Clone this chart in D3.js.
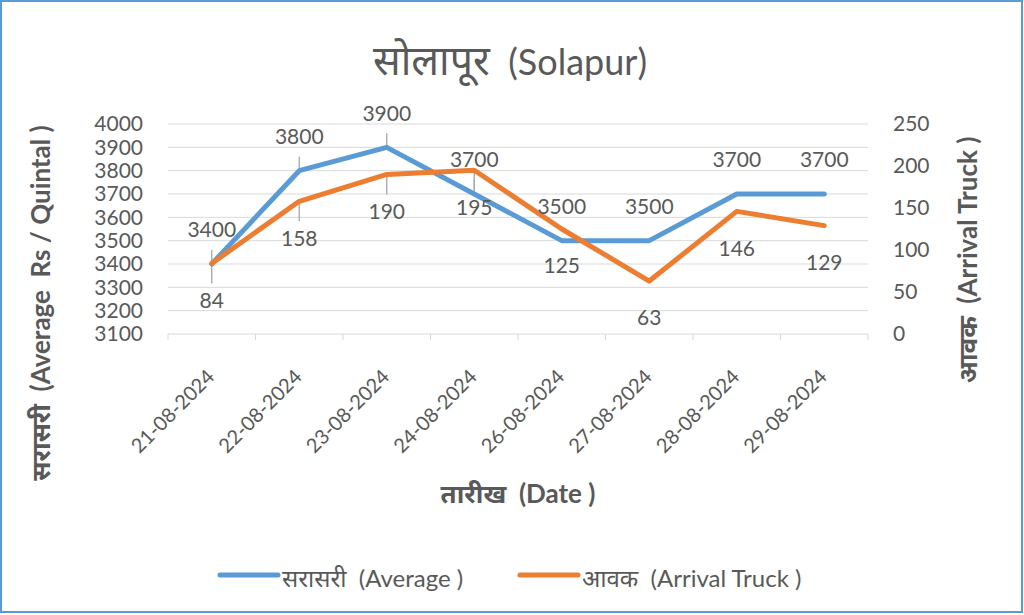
<!DOCTYPE html>
<html>
<head>
<meta charset="utf-8">
<script src="https://cdn.jsdelivr.net/npm/d3@7"></script>
<style>
  body { margin: 0; background: #fff; }
  svg text { font-family: Lato, "Noto Sans", sans-serif; fill: #595959; white-space: pre; }
</style>
</head>
<body>
<div class="chart"></div>
<script>
var dates = ["21-08-2024", "22-08-2024", "23-08-2024", "24-08-2024",
             "26-08-2024", "27-08-2024", "28-08-2024", "29-08-2024"];
var averagePrice = [3400, 3800, 3900, 3700, 3500, 3500, 3700, 3700];
var arrivalTrucks = [84, 158, 190, 195, 125, 63, 146, 129];
var leftTicks = [3100, 3200, 3300, 3400, 3500, 3600, 3700, 3800, 3900, 4000];
var rightTicks = [0, 50, 100, 150, 200, 250];
var leaderIdx = [0, 1, 2, 3];

var W = 1024, H = 615;
var plotL = 168, plotR = 868, plotT = 124, plotB = 334;

var svg = d3.select(".chart")
            .append("svg")
            .attr("width", W)
            .attr("height", H)

svg.append("rect")
   .attr("x", 1).attr("y", 1)
   .attr("width", W - 3).attr("height", H - 4)
   .style("fill", "#fff")
   .style("stroke", "#5B9BD5")
   .style("stroke-width", 2)

var x = d3.scaleBand().domain(dates).range([plotL, plotR]);
var yL = d3.scaleLinear().domain([3100, 4000]).range([plotB, plotT]);
var yR = d3.scaleLinear().domain([0, 250]).range([plotB, plotT]);

// gridlines
svg.append("g")
   .selectAll("line")
   .data(leftTicks.slice(1))
   .enter()
   .append("line")
   .attr("x1", plotL).attr("x2", plotR)
   .attr("y1", function(d) { return yL(d); })
   .attr("y2", function(d) { return yL(d); })
   .style("stroke", "#D9D9D9")
   .style("stroke-width", 1)

// category axis
var xAxis = svg.append("g")
   .attr("transform", "translate(0," + plotB + ")")
   .call(d3.axisBottom(x).tickSize(0).tickFormat(""));
xAxis.select(".domain").remove();
xAxis.append("line")
   .attr("x1", plotL).attr("x2", plotR)
   .style("stroke", "#D9D9D9").style("stroke-width", 1)
xAxis.selectAll(".bound")
   .data(d3.range(dates.length + 1))
   .enter()
   .append("line")
   .attr("x1", function(i) { return plotL + i * x.step(); })
   .attr("x2", function(i) { return plotL + i * x.step(); })
   .attr("y1", 0).attr("y2", 6)
   .style("stroke", "#D9D9D9")

svg.append("g")
   .selectAll("text")
   .data(dates)
   .enter()
   .append("text")
   .attr("transform", function(d) {
     return "translate(" + (x(d) + x.bandwidth() / 2 + 4) + "," + (plotB + 44) + ") rotate(-45)";
   })
   .attr("text-anchor", "end")
   .style("font-size", "20px")
   .text(function(d) { return d; })

// left axis
var gl = svg.append("g")
   .attr("transform", "translate(" + plotL + ",0)")
   .call(d3.axisLeft(yL).tickValues(leftTicks).tickFormat(d3.format("d")).tickSize(0).tickPadding(25));
gl.select(".domain").remove();
gl.selectAll("text").style("font-size", "21px").style("fill", "#595959");

// right axis
var gr = svg.append("g")
   .attr("transform", "translate(" + plotR + ",0)")
   .call(d3.axisRight(yR).tickValues(rightTicks).tickSize(0).tickPadding(25));
gr.select(".domain").remove();
gr.selectAll("text").style("font-size", "21px").style("fill", "#595959");

// titles
var title = svg.append("text")
   .attr("x", 510).attr("y", 75)
   .attr("text-anchor", "middle")
   .style("font-size", "36px")
title.append("tspan").style("font-size", "41px").text("सोलापूर")
title.append("tspan").text("  (Solapur)")

svg.append("text")
   .attr("transform", "translate(50,303) rotate(-90)")
   .attr("text-anchor", "middle")
   .style("font-size", "26px").style("font-weight", "bold")
   .text("सरासरी  (Average  Rs / Quintal )")

svg.append("text")
   .attr("transform", "translate(977,260) rotate(-90)")
   .attr("text-anchor", "middle")
   .style("font-size", "26px").style("font-weight", "bold")
   .text("आवक  (Arrival Truck )")

svg.append("text")
   .attr("x", 518).attr("y", 503)
   .attr("text-anchor", "middle")
   .style("font-size", "26px").style("font-weight", "bold")
   .text("तारीख  (Date )")

// leader lines
var cx = function(i) { return x(dates[i]) + x.bandwidth() / 2; };
svg.append("g")
   .selectAll("line")
   .data(leaderIdx)
   .enter()
   .append("line")
   .attr("x1", cx).attr("x2", cx)
   .attr("y1", function(i) { return yL(averagePrice[i]) - 34 + 20; })
   .attr("y2", function(i) { return yL(averagePrice[i]); })
   .style("stroke", "#A6A6A6").style("stroke-width", 1.3)
svg.append("g")
   .selectAll("line")
   .data(leaderIdx)
   .enter()
   .append("line")
   .attr("x1", cx).attr("x2", cx)
   .attr("y1", function(i) { return yR(arrivalTrucks[i]); })
   .attr("y2", function(i) { return yR(arrivalTrucks[i]) + 37 - 17; })
   .style("stroke", "#A6A6A6").style("stroke-width", 1.3)

// lines
var lineAvg = d3.line()
   .x(function(d, i) { return cx(i); })
   .y(function(d) { return yL(d); });
var lineArr = d3.line()
   .x(function(d, i) { return cx(i); })
   .y(function(d) { return yR(d); });

svg.append("path")
   .datum(averagePrice)
   .attr("d", lineAvg)
   .style("fill", "none").style("stroke", "#5B9BD5")
   .style("stroke-width", 5).style("stroke-linejoin", "round").style("stroke-linecap", "round")

svg.append("path")
   .datum(arrivalTrucks)
   .attr("d", lineArr)
   .style("fill", "none").style("stroke", "#ED7D31")
   .style("stroke-width", 5).style("stroke-linejoin", "round").style("stroke-linecap", "round")

// data labels
svg.append("g")
   .selectAll("text")
   .data(averagePrice)
   .enter()
   .append("text")
   .attr("x", function(d, i) { return cx(i); })
   .attr("y", function(d) { return yL(d) - 34; })
   .attr("dy", "0.35em")
   .attr("text-anchor", "middle")
   .style("font-size", "21px")
   .text(function(d) { return d; })

svg.append("g")
   .selectAll("text")
   .data(arrivalTrucks)
   .enter()
   .append("text")
   .attr("x", function(d, i) { return cx(i); })
   .attr("y", function(d) { return yR(d) + 37; })
   .attr("dy", "0.35em")
   .attr("text-anchor", "middle")
   .style("font-size", "21px")
   .text(function(d) { return d; })

// legend
var legendData = [
  {"label": "सरासरी  (Average )", "color": "#5B9BD5", "x": 220},
  {"label": "आवक  (Arrival Truck )", "color": "#ED7D31", "x": 520}
];
var legend = svg.append("g").attr("class", "legend");
legend.selectAll("g")
   .data(legendData)
   .enter()
   .append("g")
   .each(function(d) {
     var g = d3.select(this);
     g.append("line")
      .attr("x1", d.x).attr("x2", d.x + 58)
      .attr("y1", 575).attr("y2", 575)
      .style("stroke", d.color).style("stroke-width", 5)
      .style("stroke-linecap", "round")
     g.append("text")
      .attr("x", d.x + 62).attr("y", 587)
      .style("font-size", "24px")
      .text(d.label)
   })
</script>
</body>
</html>
